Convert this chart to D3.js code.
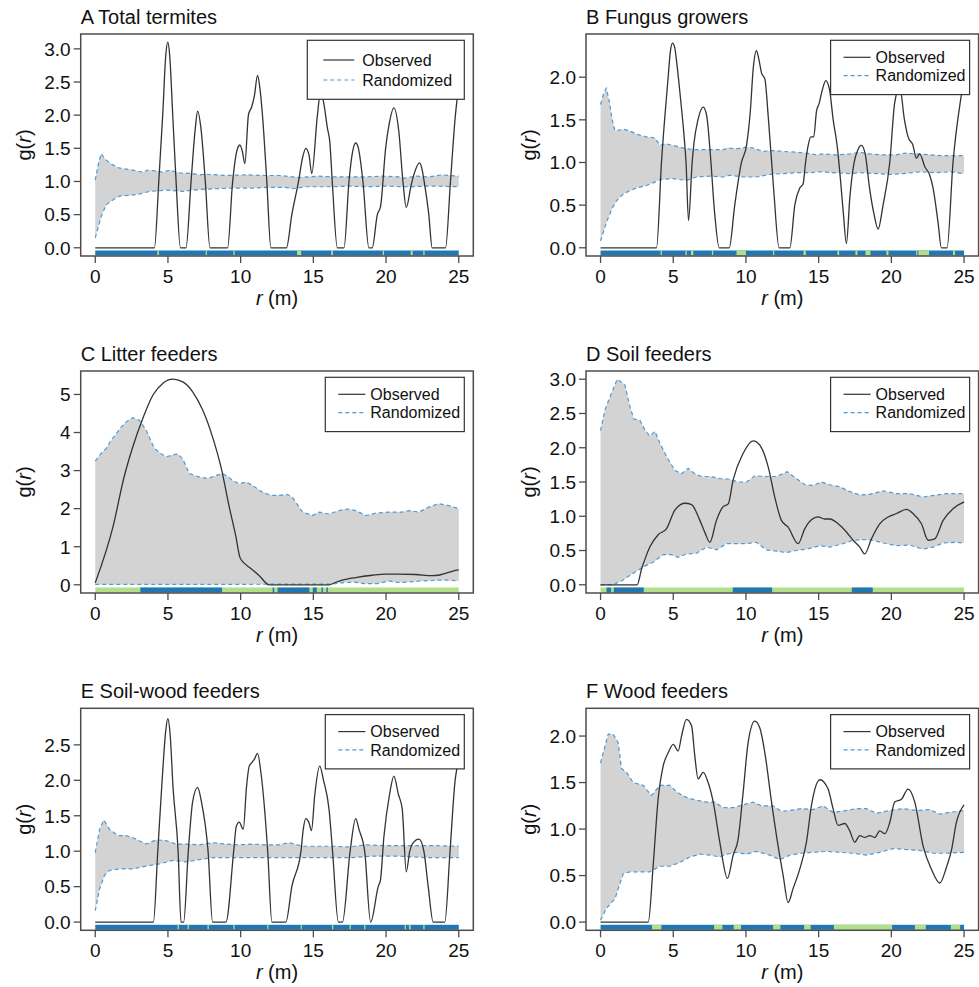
<!DOCTYPE html>
<html>
<head>
<meta charset="utf-8">
<script src="https://cdn.jsdelivr.net/npm/d3@7"></script>
<style>
  body { margin: 0; background: #fff; }
  svg { font-family: "Liberation Sans", Arial, sans-serif; }
</style>
</head>
<body>
<svg width="979" height="987"></svg>
<script>
// g(r): [r, g] pairs
var obsA = [[0,0],[4.07,0],[4.37,1.0],[4.64,2.0],[4.85,2.9],[4.99,3.1],[5.12,2.9],[5.33,2.0],[5.56,1.0],[5.86,0],[6.24,0],[6.59,1.0],[6.88,1.8],[7.04,2.06],[7.27,1.8],[7.57,1.0],[7.89,0],[9.1,0],[9.45,1.0],[9.79,1.5],[9.95,1.55],[10.12,1.45],[10.29,1.27],[10.54,2.01],[10.75,2.12],[10.95,2.3],[11.16,2.6],[11.3,2.45],[11.5,2.0],[11.8,1.0],[12.08,0],[13.15,0],[13.52,0.5],[13.98,1.0],[14.25,1.35],[14.48,1.5],[14.7,1.4],[14.89,1.12],[15.28,2.0],[15.5,2.35],[15.7,2.2],[15.97,1.8],[16.13,1.6],[16.3,1.0],[16.65,0],[17.11,0],[17.45,1.0],[17.7,1.45],[17.91,1.58],[18.1,1.5],[18.41,1.0],[18.82,0],[19.05,0],[19.4,0.5],[19.62,0.62],[19.97,1.5],[20.2,1.85],[20.54,2.11],[20.88,1.75],[21.16,1.0],[21.39,0.61],[21.73,0.95],[21.91,1.1],[22.3,1.28],[22.48,1.18],[22.62,1.0],[22.94,0.5],[23.17,0],[24.09,0],[24.43,1.0],[24.77,2.0],[24.89,2.25],[25,2.45]];
var upA = [[0,1.02],[0.2,1.25],[0.41,1.42],[0.64,1.35],[0.87,1.3],[1.21,1.25],[1.67,1.2],[2.36,1.18],[3.04,1.15],[3.27,1.14],[3.61,1.17],[4.19,1.16],[4.64,1.14],[5.1,1.17],[5.79,1.13],[6.7,1.12],[7.16,1.1],[7.62,1.11],[8.99,1.09],[10.36,1.1],[11.73,1.09],[12.65,1.09],[13.56,1.07],[14.02,1.06],[15.28,1.08],[16.31,1.07],[18.6,1.07],[19.74,1.08],[20.88,1.07],[21.23,1.05],[22.03,1.08],[22.94,1.07],[23.86,1.1],[25,1.08]];
var loA = [[0,0.15],[0.41,0.47],[0.75,0.65],[1.21,0.72],[1.67,0.78],[2.36,0.79],[3.04,0.81],[3.73,0.85],[4.41,0.86],[4.87,0.87],[6.02,0.85],[7.16,0.88],[8.3,0.89],[9.45,0.9],[10.82,0.9],[11.73,0.91],[13.11,0.91],[13.56,0.89],[14.48,0.92],[16.31,0.92],[17.45,0.93],[18.6,0.92],[19.97,0.93],[21.34,0.92],[23.17,0.93],[25,0.92]];

var obsB = [[0,0],[3.85,0],[4.19,1.0],[4.65,2.0],[4.8,2.3],[4.95,2.4],[5.1,2.35],[5.22,2.2],[5.5,1.75],[5.75,1.3],[5.88,1.0],[6.05,0.32],[6.3,1.0],[6.42,1.22],[6.7,1.5],[7.06,1.65],[7.3,1.55],[7.55,1.1],[7.85,0.4],[8.16,0],[8.85,0],[9.23,0.5],[9.69,1.0],[10.04,1.2],[10.3,1.6],[10.5,2.1],[10.72,2.31],[10.9,2.2],[11.07,2.05],[11.3,1.98],[11.55,1.5],[11.9,0.7],[12.28,0],[13.02,0],[13.36,0.5],[13.7,0.7],[13.93,0.75],[14.1,1.0],[14.28,1.2],[14.46,1.3],[14.66,1.3],[14.85,1.6],[15.03,1.69],[15.25,1.85],[15.49,1.96],[15.75,1.85],[16.0,1.5],[16.27,1.2],[16.5,0.8],[16.7,0.4],[16.91,0.05],[17.15,0.6],[17.44,1.0],[17.7,1.15],[17.94,1.2],[18.2,1.1],[18.5,0.7],[18.8,0.4],[19.09,0.22],[19.43,0.5],[19.89,1.0],[20.23,1.7],[20.58,1.88],[20.9,1.5],[21.15,1.3],[21.49,1.2],[21.72,1.05],[21.95,1.1],[22.3,0.95],[22.64,0.85],[22.87,0.7],[23.21,0.3],[23.44,0],[23.83,0],[24.24,1.0],[24.82,1.8],[25,2.0]];
var upB = [[0,1.68],[0.2,1.8],[0.39,1.87],[0.6,1.72],[0.8,1.5],[1.0,1.37],[1.56,1.39],[2.02,1.37],[2.5,1.33],[3.16,1.3],[3.74,1.29],[4.08,1.2],[4.45,1.22],[5.0,1.2],[5.91,1.16],[6.6,1.15],[8.43,1.15],[8.78,1.17],[9.35,1.16],[10.04,1.18],[10.49,1.17],[11.18,1.13],[11.87,1.14],[12.56,1.13],[13.47,1.12],[14.16,1.11],[14.85,1.09],[15.31,1.1],[16.22,1.09],[17.14,1.1],[17.83,1.12],[18.51,1.1],[19.43,1.09],[20.35,1.09],[20.92,1.11],[21.72,1.1],[22.64,1.09],[23.56,1.08],[25,1.08]];
var loB = [[0,0.08],[0.41,0.3],[0.76,0.45],[1.1,0.55],[1.56,0.63],[2.02,0.67],[2.47,0.7],[3.16,0.73],[3.74,0.77],[4.08,0.8],[5.0,0.81],[5.91,0.79],[6.6,0.83],[7.52,0.84],[8.43,0.83],[8.89,0.85],[9.81,0.83],[10.72,0.83],[11.64,0.86],[12.56,0.87],[13.47,0.88],[14.39,0.88],[15.08,0.89],[15.99,0.88],[17.14,0.87],[17.83,0.88],[18.97,0.87],[19.89,0.86],[20.81,0.87],[21.95,0.89],[23.1,0.88],[24.01,0.89],[25,0.87]];

var obsC = [[0,0.05],[1.21,1.51],[2.01,2.87],[2.58,3.62],[3.27,4.37],[3.96,4.98],[4.64,5.29],[5.33,5.4],[6.02,5.33],[6.7,5.07],[7.39,4.59],[8.07,3.88],[8.65,3.09],[9.22,2.04],[9.68,1.25],[9.95,0.72],[10.3,0.55],[10.59,0.46],[11.28,0.24],[11.96,0],[16.08,0],[16.5,0.06],[16.99,0.12],[17.91,0.19],[19.05,0.25],[19.97,0.28],[20.88,0.28],[22.03,0.27],[23.17,0.24],[23.6,0.25],[24.09,0.3],[24.6,0.36],[25,0.39]];
var upC = [[0,3.25],[0.4,3.45],[0.75,3.58],[1.1,3.8],[1.44,3.97],[1.8,4.15],[2.13,4.28],[2.58,4.39],[3.04,4.32],[3.5,4.06],[4.07,3.58],[4.5,3.45],[4.87,3.36],[5.22,3.4],[5.67,3.44],[6.02,3.31],[6.47,2.92],[7.16,2.83],[7.73,2.79],[8.3,2.87],[8.76,2.92],[9.1,2.85],[9.45,2.74],[9.9,2.65],[10.36,2.7],[10.82,2.61],[11.5,2.43],[12.08,2.35],[12.65,2.35],[13.22,2.37],[13.56,2.3],[14.25,1.91],[14.94,1.82],[15.39,1.91],[16.08,1.86],[16.77,1.95],[17.34,1.99],[17.91,1.95],[18.6,1.82],[19.28,1.88],[20.2,1.91],[21.11,1.91],[21.57,1.95],[22.26,1.91],[22.94,2.04],[23.63,2.13],[24.31,2.08],[25,2.0]];
var loC = [[0,0.01],[8,0.01],[16.3,0.02],[16.9,0.05],[17.8,0.07],[18.5,0.03],[19.4,0.03],[20.2,0.1],[20.8,0.06],[21.5,0.07],[22.4,0.1],[23.5,0.12],[24.3,0.12],[25,0.1]];

var obsD = [[0,0],[2.52,0],[2.82,0.23],[3.1,0.4],[3.39,0.55],[3.96,0.73],[4.54,0.82],[5.11,1.09],[5.5,1.17],[5.8,1.19],[6.26,1.17],[6.83,0.94],[7.2,0.75],[7.52,0.62],[7.97,0.94],[8.43,1.14],[8.78,1.18],[9.12,1.53],[9.81,1.92],[10.49,2.1],[10.95,2.04],[11.53,1.72],[11.98,1.28],[12.44,0.94],[12.9,0.84],[13.59,0.6],[14.05,0.82],[14.5,0.95],[14.96,0.99],[15.42,0.96],[15.77,0.96],[16.34,0.89],[16.91,0.77],[17.37,0.65],[17.83,0.55],[18.17,0.45],[18.63,0.67],[19.2,0.89],[19.78,0.99],[20.35,1.04],[21.04,1.1],[21.49,1.04],[22.07,0.89],[22.53,0.65],[22.98,0.67],[23.56,0.94],[24.24,1.11],[25,1.21]];
var upD = [[0,2.25],[0.3,2.55],[0.76,2.8],[1.15,3.0],[1.67,2.92],[2.02,2.6],[2.29,2.42],[2.7,2.4],[3.05,2.26],[3.39,2.17],[3.74,2.24],[4.08,2.07],[4.54,1.87],[5.11,1.67],[5.57,1.62],[6.03,1.7],[6.48,1.62],[6.94,1.58],[7.52,1.58],[8.2,1.55],[8.89,1.54],[9.46,1.5],[10.04,1.5],[10.61,1.59],[11.41,1.58],[12.1,1.58],[12.83,1.65],[13.47,1.55],[14.05,1.46],[14.62,1.45],[15.19,1.5],[15.77,1.46],[16.45,1.43],[17.14,1.36],[17.83,1.31],[18.51,1.32],[19.43,1.37],[20.35,1.33],[21.26,1.33],[22.18,1.28],[23.1,1.31],[23.79,1.33],[25,1.33]];
var loD = [[0,0],[0.87,0],[1.56,0.07],[2.25,0.17],[2.93,0.26],[3.62,0.33],[4.31,0.44],[4.88,0.44],[5.34,0.4],[5.91,0.45],[6.6,0.46],[7.29,0.55],[7.97,0.51],[8.66,0.6],[9.35,0.6],[10.04,0.6],[10.72,0.62],[11.41,0.51],[12.1,0.49],[12.79,0.47],[13.47,0.5],[14.16,0.52],[15.08,0.57],[15.77,0.55],[16.68,0.6],[17.37,0.65],[18.06,0.66],[18.74,0.65],[19.43,0.61],[20.35,0.57],[21.26,0.58],[22.18,0.52],[22.87,0.55],[23.56,0.61],[24.47,0.62],[25,0.61]];

var obsE = [[0,0],[4.0,0],[4.3,1.0],[4.6,2.0],[4.85,2.7],[4.99,2.87],[5.15,2.65],[5.35,1.9],[5.7,1.0],[5.9,0],[6.08,0],[6.4,1.0],[6.7,1.7],[7.04,1.9],[7.3,1.7],[7.76,1.0],[8.07,0],[8.99,0],[9.52,1.0],[9.7,1.35],[9.9,1.41],[10.18,1.31],[10.4,1.9],[10.59,2.2],[10.77,2.25],[10.95,2.3],[11.16,2.38],[11.4,2.1],[11.86,1.0],[12.15,0],[13.11,0],[13.52,0.5],[14.15,1.0],[14.3,1.3],[14.48,1.46],[14.7,1.4],[14.87,1.29],[15.1,1.8],[15.44,2.2],[15.7,2.0],[16.08,1.59],[16.32,1.0],[16.72,0],[17.0,0],[17.53,1.0],[17.91,1.46],[18.15,1.3],[18.53,1.0],[18.94,0],[19.46,0.5],[19.62,0.6],[19.85,1.2],[20.24,1.8],[20.54,2.06],[20.85,1.8],[21.11,1.6],[21.39,0.71],[21.63,1.0],[21.8,1.1],[22.26,1.17],[22.6,1.0],[22.9,0.5],[23.24,0],[24.04,0],[24.4,1.0],[24.75,2.0],[24.89,2.2],[25,2.4]];
var upE = [[0,0.98],[0.3,1.31],[0.59,1.44],[0.98,1.31],[1.56,1.22],[2.13,1.22],[2.7,1.18],[3.5,1.1],[4.19,1.16],[4.87,1.15],[5.56,1.1],[6.24,1.1],[7.16,1.09],[8.07,1.12],[8.99,1.1],[9.9,1.09],[10.82,1.1],[11.73,1.09],[12.65,1.09],[13.33,1.12],[14.25,1.07],[15.16,1.07],[16.31,1.07],[17.45,1.06],[18.6,1.09],[19.74,1.08],[20.88,1.08],[22.03,1.08],[23.17,1.08],[25,1.07]];
var loE = [[0,0.16],[0.3,0.47],[0.64,0.66],[0.98,0.73],[1.67,0.75],[2.58,0.75],[3.5,0.79],[4.41,0.82],[5.33,0.87],[6.24,0.85],[7.16,0.88],[8.07,0.91],[9.45,0.91],[10.82,0.91],[12.19,0.91],[13.56,0.91],[14.94,0.91],[16.31,0.91],[17.68,0.91],[19.05,0.93],[20.88,0.93],[22.71,0.91],[25,0.91]];

var obsF = [[0,0],[3.28,0],[3.62,0.61],[3.96,1.32],[4.31,1.68],[4.65,1.82],[5.0,1.91],[5.34,1.84],[5.57,2.0],[5.91,2.18],[6.26,2.11],[6.48,1.79],[6.71,1.54],[7.06,1.61],[7.4,1.5],[7.75,1.29],[8.2,0.86],[8.73,0.47],[9.12,0.72],[9.46,0.89],[9.81,1.4],[10.15,1.93],[10.61,2.16],[10.95,2.09],[11.3,1.82],[11.76,1.29],[12.21,0.82],[12.56,0.5],[12.9,0.21],[13.24,0.36],[13.7,0.57],[14.16,0.86],[14.5,1.25],[15.08,1.53],[15.65,1.43],[15.99,1.22],[16.34,1.04],[16.8,1.06],[17.14,0.98],[17.48,0.86],[17.83,0.93],[18.17,0.91],[18.52,0.93],[18.86,0.91],[19.2,0.98],[19.55,0.95],[19.89,1.07],[20.23,1.29],[20.69,1.32],[21.15,1.43],[21.61,1.29],[22.18,0.82],[22.75,0.57],[23.33,0.42],[23.79,0.59],[24.13,0.77],[24.47,1.07],[25,1.26]];
var upF = [[0,1.71],[0.18,1.82],[0.53,2.02],[0.87,2.02],[1.21,1.93],[1.44,1.65],[1.79,1.61],[2.25,1.5],[2.93,1.47],[3.51,1.36],[4.08,1.47],[4.77,1.47],[5.22,1.4],[5.91,1.34],[6.6,1.31],[7.29,1.29],[7.86,1.29],[8.43,1.23],[9.12,1.23],[10.04,1.27],[10.49,1.29],[11.07,1.25],[11.87,1.25],[12.44,1.19],[13.02,1.2],[13.82,1.22],[14.62,1.21],[15.31,1.25],[15.99,1.18],[16.91,1.2],[17.6,1.22],[18.29,1.22],[18.97,1.17],[19.89,1.2],[20.81,1.22],[21.72,1.2],[22.64,1.21],[23.33,1.16],[24.01,1.18],[25,1.2]];
var loF = [[0,0.02],[0.41,0.15],[0.99,0.25],[1.56,0.52],[2.02,0.54],[2.7,0.54],[3.39,0.54],[4.08,0.6],[4.77,0.6],[5.45,0.64],[6.14,0.7],[6.83,0.73],[7.52,0.72],[8.2,0.7],[8.66,0.73],[9.35,0.75],[10.04,0.73],[10.72,0.76],[11.64,0.72],[12.33,0.67],[13.02,0.72],[13.82,0.74],[14.62,0.75],[15.54,0.76],[16.45,0.75],[17.37,0.74],[18.29,0.72],[19.2,0.75],[20.12,0.79],[21.04,0.78],[21.95,0.77],[22.87,0.74],[23.79,0.74],[25,0.75]];

// bottom strip: intervals (m) drawn in the other colour than the strip base
var stripA = [[4.27,4.38],[7.6,7.67],[9.5,9.59],[13.88,14.16],[16.23,16.35],[19.77,19.86],[21.69,21.83],[22.56,22.65]];
var stripB = [[4.13,4.22],[5.84,5.93],[6.22,6.38],[7.66,7.74],[9.35,10.0],[11.86,11.93],[13.96,14.12],[16.29,16.41],[17.53,17.67],[18.22,18.56],[19.66,19.8],[21.7,21.76],[21.86,22.59],[24.24,24.38]];
var stripC = [[3.1,8.72],[12.2,12.31],[12.54,14.73],[14.96,15.23],[15.56,15.66],[15.9,16.0]];
var stripD = [[0.41,0.73],[0.91,2.97],[9.09,11.8],[17.28,18.72]];
var stripE = [[5.66,5.75],[6.35,6.44],[7.72,7.81],[9.5,9.59],[11.83,11.89],[14.13,14.2],[16.28,16.37],[17.49,17.58],[18.49,18.58],[21.28,21.37],[21.58,21.69],[22.56,22.65]];
var stripF = [[3.54,4.18],[7.81,8.38],[9.16,9.66],[11.87,12.37],[14.0,14.45],[16.05,20.05],[21.62,22.37],[24.09,24.73]];

var titles = ["A Total termites", "B Fungus growers", "C Litter feeders", "D Soil feeders", "E Soil-wood feeders", "F Wood feeders"];
var yMax = [3.1, 2.41, 5.4, 3.0, 2.9, 2.21];
var yTicks = [[0,0.5,1,1.5,2,2.5,3], [0,0.5,1,1.5,2], [0,1,2,3,4,5], [0,0.5,1,1.5,2,2.5,3], [0,0.5,1,1.5,2,2.5], [0,0.5,1,1.5,2]];
var xTicks = [0, 5, 10, 15, 20, 25];

var blue = "#1f78b4", green = "#b2df8a";

var panels = [
  {obs: obsA, up: upA, lo: loA, strip: stripA, base: blue},
  {obs: obsB, up: upB, lo: loB, strip: stripB, base: blue},
  {obs: obsC, up: upC, lo: loC, strip: stripC, base: green},
  {obs: obsD, up: upD, lo: loD, strip: stripD, base: green},
  {obs: obsE, up: upE, lo: loE, strip: stripE, base: blue},
  {obs: obsF, up: upF, lo: loF, strip: stripF, base: blue}
];

var svg = d3.select("svg");
var colLeft = [80.7, 586], rowTop = [34, 371, 708.3];
var boxW = 392.6, boxH = 222;
var axisCol = "#4d4d4d";

panels.forEach(function(p, i) {
  var left = colLeft[i % 2], top = rowTop[Math.floor(i / 2)];
  var g = svg.append("g");

  // R-style 4% padding on both axes
  var x = d3.scaleLinear().domain([-1, 26]).range([left, left + boxW]);
  var y = d3.scaleLinear().domain([-0.04 * yMax[i], 1.04 * yMax[i]]).range([top + boxH, top]);
  var line = d3.line().x(function(d) { return x(d[0]); }).y(function(d) { return y(d[1]); });
  var smooth = d3.line().x(function(d) { return x(d[0]); }).y(function(d) { return y(d[1]); })
    .curve(d3.curveMonotoneX);

  // envelope
  var poly = p.up.concat(p.lo.slice().reverse());
  g.append("path").attr("d", line(poly) + "Z").attr("fill", "#d3d3d3").attr("stroke", "none");
  [p.up, p.lo].forEach(function(s) {
    g.append("path").attr("d", line(s)).attr("fill", "none")
      .attr("stroke", "#4e9ad6").attr("stroke-width", 1.2).attr("stroke-dasharray", "4,3");
  });

  // observed
  g.append("path").attr("d", smooth(p.obs)).attr("fill", "none")
    .attr("stroke", "#333").attr("stroke-width", 1.3).attr("stroke-linejoin", "round");

  // strip
  var other = p.base === blue ? green : blue;
  var sy = top + boxH - 5.5;
  g.append("rect").attr("x", x(0)).attr("width", x(25) - x(0))
    .attr("y", sy).attr("height", 5).attr("fill", p.base);
  g.selectAll(".seg").data(p.strip).enter().append("rect")
    .attr("x", function(d) { return x(d[0]); })
    .attr("width", function(d) { return Math.max(1.2, x(d[1]) - x(d[0])); })
    .attr("y", sy).attr("height", 5).attr("fill", other);

  // legend
  var wide = i === 0;
  var lw = wide ? 157 : 139, lh = wide ? 59 : 54.3;
  var lx = left + boxW - 9 - lw, ly = top + 6.3;
  g.append("rect").attr("x", lx).attr("y", ly).attr("width", lw).attr("height", lh)
    .attr("fill", "#fff").attr("stroke", "#333").attr("stroke-width", 1.2);
  var rows = wide ? [19.7, 39.7] : [17, 35.3];
  var l0 = wide ? 16 : 13, l1 = wide ? 47 : 40, tx = wide ? 55 : 45;
  [["Observed", "#333", null], ["Randomized", "#4e9ad6", "4,3"]].forEach(function(e, k) {
    g.append("line").attr("x1", lx + l0).attr("x2", lx + l1)
      .attr("y1", ly + rows[k]).attr("y2", ly + rows[k])
      .attr("stroke", e[1]).attr("stroke-width", 1.2).attr("stroke-dasharray", e[2]);
    g.append("text").attr("x", lx + tx).attr("y", ly + rows[k]).attr("dy", "0.35em")
      .attr("font-size", 16).attr("fill", "#111").text(e[0]);
  });

  // box
  g.append("rect").attr("x", left).attr("y", top).attr("width", boxW).attr("height", boxH)
    .attr("fill", "none").attr("stroke", axisCol).attr("stroke-width", 1.5);

  // y axis ticks
  var fmt = i === 2 ? d3.format("d") : d3.format(".1f");
  yTicks[i].forEach(function(t) {
    g.append("line").attr("x1", left - 7).attr("x2", left).attr("y1", y(t)).attr("y2", y(t))
      .attr("stroke", axisCol).attr("stroke-width", 1.3);
    g.append("text").attr("x", left - 10).attr("y", y(t)).attr("dy", "0.36em")
      .attr("text-anchor", "end").attr("font-size", 19).attr("fill", "#111").text(fmt(t));
  });

  // x axis ticks
  xTicks.forEach(function(t) {
    g.append("line").attr("x1", x(t)).attr("x2", x(t)).attr("y1", top + boxH).attr("y2", top + boxH + 7)
      .attr("stroke", axisCol).attr("stroke-width", 1.3);
    g.append("text").attr("x", x(t)).attr("y", top + boxH + 27)
      .attr("text-anchor", "middle").attr("font-size", 19).attr("fill", "#111").text(t);
  });

  // axis labels
  var xl = g.append("text").attr("x", left + boxW / 2).attr("y", top + boxH + 49)
    .attr("text-anchor", "middle").attr("font-size", 20).attr("fill", "#111");
  xl.append("tspan").attr("font-style", "italic").text("r");
  xl.append("tspan").text(" (m)");

  var yl = g.append("text")
    .attr("transform", "translate(" + (left - 50) + "," + (top + boxH / 2) + ") rotate(-90)")
    .attr("text-anchor", "middle").attr("font-size", 20).attr("fill", "#111");
  yl.append("tspan").text("g(");
  yl.append("tspan").attr("font-style", "italic").text("r");
  yl.append("tspan").text(")");

  // title
  g.append("text").attr("x", left).attr("y", top - 10)
    .attr("font-size", 20).attr("fill", "#111").text(titles[i]);
});
</script>
</body>
</html>
